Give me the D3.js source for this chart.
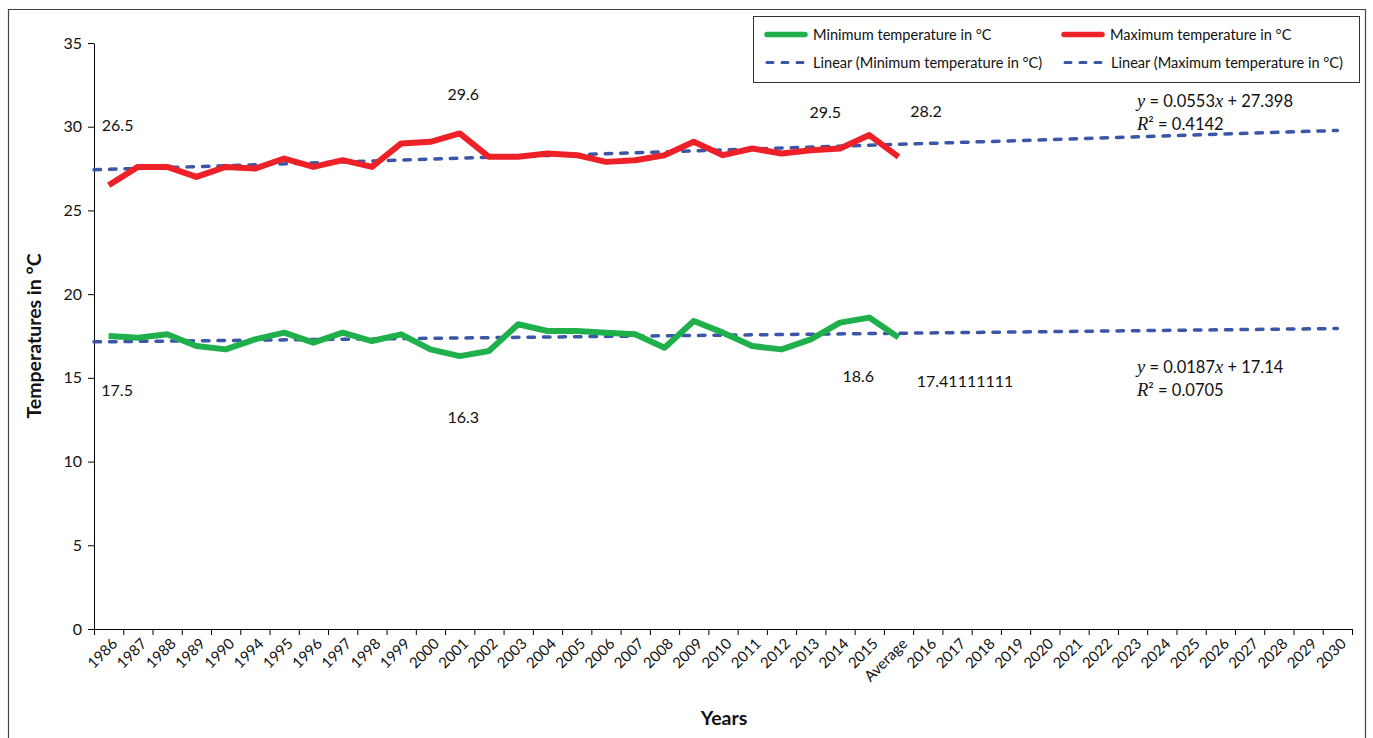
<!DOCTYPE html>
<html>
<head>
<meta charset="utf-8">
<script src="https://cdn.jsdelivr.net/npm/d3@7"></script>
<style>
  body { margin: 0; background: #fff; }
  svg { display: block; font-family: Lato, "Open Sans", sans-serif; }
</style>
</head>
<body>
<div class="graph"></div>
<script>
// categories on the x axis (Excel category axis, "Average" sits among the years)
const categories = ["1986", "1987", "1988", "1989", "1990", "1994", "1995", "1996", "1997", "1998",
    "1999", "2000", "2001", "2002", "2003", "2004", "2005", "2006", "2007", "2008", "2009", "2010",
    "2011", "2012", "2013", "2014", "2015", "Average", "2016", "2017", "2018", "2019", "2020", "2021",
    "2022", "2023", "2024", "2025", "2026", "2027", "2028", "2029", "2030"];

// values for 1986 ... 2015 and Average
const minTemps = [17.5, 17.4, 17.6, 16.9, 16.7, 17.3, 17.7, 17.1, 17.7, 17.2, 17.6, 16.7, 16.3, 16.6,
    18.2, 17.8, 17.8, 17.7, 17.6, 16.8, 18.4, 17.7, 16.9, 16.7, 17.3, 18.3, 18.6, 17.41111111];
const maxTemps = [26.5, 27.6, 27.6, 27.0, 27.6, 27.5, 28.1, 27.6, 28.0, 27.6, 29.0, 29.1, 29.6, 28.2,
    28.2, 28.4, 28.3, 27.9, 28.0, 28.3, 29.1, 28.3, 28.7, 28.4, 28.6, 28.7, 29.5, 28.2];

// trendline coefficients as printed on the chart
const minTrend = { slope: 0.0187, intercept: 17.14, r2: "0.0705" };
const maxTrend = { slope: 0.0553, intercept: 27.398, r2: "0.4142" };

const yTicks = [0, 5, 10, 15, 20, 25, 30, 35];

// data labels shown on the chart
const minLabelCats = ["1986", "2001", "2015", "Average"];
const minLabelTexts = ["17.5", "16.3", "18.6", "17.41111111"];
const maxLabelCats = ["1986", "2001", "2015", "Average"];
const maxLabelTexts = ["26.5", "29.6", "29.5", "28.2"];

const drawChart = () => {
    const W = 1373, H = 738;
    const margin = { top: 43, right: 21, bottom: 109, left: 94 };
    const width = W - margin.left - margin.right,
        height = H - margin.top - margin.bottom;

    const green = "#1fb04c", red = "#ee2028", blue = "#3b56a6";

    const svg = d3.select(".graph")
        .append("svg")
        .attr("width", W)
        .attr("height", H);

    // outer frame
    svg.append("path")
        .attr("d", "M8.5," + H + "V9.5H1365.5V" + H)
        .attr("fill", "none")
        .attr("stroke", "#444")
        .attr("stroke-width", 1.2);

    const g = svg.append("g")
        .attr("transform", "translate(" + margin.left + "," + margin.top + ")");

    const x = d3.scaleBand()
        .domain(categories)
        .range([0, width]);
    // continuous position: 1 = first category centre (used for ticks & trendlines)
    const xt = d3.scaleLinear()
        .domain([0.5, categories.length + 0.5])
        .range([0, width]);
    const y = d3.scaleLinear()
        .domain([0, 35])
        .range([height, 0]);

    // y axis
    const yAxis = d3.axisLeft(y)
        .tickValues(yTicks)
        .tickSize(6)
        .tickSizeOuter(0)
        .tickPadding(6);
    const ya = g.append("g").call(yAxis);
    ya.selectAll("text").attr("font-size", 16).attr("fill", "#111").attr("font-family", "Lato");
    ya.selectAll("line, path").attr("stroke", "#000");

    // x axis: ticks between categories
    const xAxis = d3.axisBottom(xt)
        .tickValues(d3.range(0, categories.length + 1).map(i => i + 0.5))
        .tickFormat("")
        .tickSize(6)
        .tickSizeOuter(0);
    const xa = g.append("g")
        .attr("transform", "translate(0," + height + ")")
        .call(xAxis);
    xa.selectAll("line, path").attr("stroke", "#000");

    g.append("g")
        .selectAll("text")
        .data(categories)
        .enter()
        .append("text")
        .attr("transform", d => "translate(" + (x(d) + x.bandwidth() / 2 + 6) + "," + (height + 12) + ") rotate(-45)")
        .attr("text-anchor", "end")
        .attr("dy", "0.35em")
        .attr("font-size", 15)
        .attr("fill", "#111")
        .text(d => d);

    // axis titles
    g.append("text")
        .attr("transform", "translate(" + (34 - margin.left) + "," + (336 - margin.top) + ") rotate(-90)")
        .attr("text-anchor", "middle")
        .attr("dy", "0.35em")
        .attr("font-size", 19.5)
        .attr("font-weight", "bold")
        .attr("fill", "#111")
        .text("Temperatures in °C");
    g.append("text")
        .attr("x", 724 - margin.left)
        .attr("y", 718 - margin.top)
        .attr("text-anchor", "middle")
        .attr("dy", "0.35em")
        .attr("font-size", 19.5)
        .attr("font-weight", "bold")
        .attr("fill", "#111")
        .text("Years");

    // trendlines
    const trendLine = (tr) => [0.5, categories.length].map(t => [xt(t), y(tr.intercept + tr.slope * t)]);
    [minTrend, maxTrend].forEach(tr => {
        g.append("path")
            .attr("d", d3.line()(trendLine(tr)))
            .attr("fill", "none")
            .attr("stroke", blue)
            .attr("stroke-width", 3.5)
            .attr("stroke-linecap", "round")
            .attr("stroke-dasharray", "6.5,9");
    });

    // series lines
    const line = d3.line()
        .x((d, i) => x(categories[i]) + x.bandwidth() / 2)
        .y(d => y(d));
    g.append("path")
        .attr("d", line(minTemps))
        .attr("fill", "none")
        .attr("stroke", green)
        .attr("stroke-width", 6)
        .attr("stroke-linejoin", "round");
    g.append("path")
        .attr("d", line(maxTemps))
        .attr("fill", "none")
        .attr("stroke", red)
        .attr("stroke-width", 6)
        .attr("stroke-linejoin", "round");

    // data labels (offsets from their points, as placed in the original)
    const minOffsets = [[8.5, 54], [3.5, 61.5], [-11, 58.5], [66.5, 43.5]];
    const maxOffsets = [[9, -60], [3.5, -39.5], [-44, -23], [27.5, -45.5]];
    const drawLabels = (cats, texts, values, offsets) => {
        cats.forEach((c, k) => {
            const i = categories.indexOf(c);
            g.append("text")
                .attr("x", x(c) + x.bandwidth() / 2 + offsets[k][0])
                .attr("y", y(values[i]) + offsets[k][1])
                .attr("text-anchor", "middle")
                .attr("dy", "0.35em")
                .attr("font-size", 16)
                .attr("fill", "#111")
                .text(texts[k]);
        });
    };
    drawLabels(minLabelCats, minLabelTexts, minTemps, minOffsets);
    drawLabels(maxLabelCats, maxLabelTexts, maxTemps, maxOffsets);

    // trendline equations
    const equation = (tr, x0, y0) => {
        const t1 = svg.append("text")
            .attr("x", x0).attr("y", y0).attr("dy", "0.35em")
            .attr("font-size", 16.5).attr("fill", "#111");
        t1.append("tspan").attr("font-family", "Liberation Serif").attr("font-style", "italic").attr("font-size", 18.5).text("y");
        t1.append("tspan").text(" = " + tr.slope);
        t1.append("tspan").attr("font-family", "Liberation Serif").attr("font-style", "italic").attr("font-size", 18.5).text("x");
        t1.append("tspan").text(" + " + tr.intercept);
        const t2 = svg.append("text")
            .attr("x", x0).attr("y", y0 + 23).attr("dy", "0.35em")
            .attr("font-size", 16.5).attr("fill", "#111");
        t2.append("tspan").attr("font-family", "Liberation Serif").attr("font-style", "italic").attr("font-size", 18.5).text("R");
        t2.append("tspan").text("² = " + tr.r2);
    };
    equation(maxTrend, 1137, 101);
    equation(minTrend, 1137, 367);

    // legend
    const lg = svg.append("g");
    lg.append("rect")
        .attr("x", 753.5).attr("y", 16.5)
        .attr("width", 606).attr("height", 66)
        .attr("fill", "#fff")
        .attr("stroke", "#333")
        .attr("stroke-width", 1);
    const items = [
        { name: "Minimum temperature in °C", color: green, dash: false, x: 765, y: 34.5 },
        { name: "Maximum temperature in °C", color: red, dash: false, x: 1062, y: 34.5 },
        { name: "Linear (Minimum temperature in °C)", color: blue, dash: true, x: 765, y: 62.5 },
        { name: "Linear (Maximum temperature in °C)", color: blue, dash: true, x: 1063, y: 62.5 }
    ];
    items.forEach(it => {
        lg.append("line")
            .attr("x1", it.x + 2).attr("x2", it.x + 40)
            .attr("y1", it.y).attr("y2", it.y)
            .attr("stroke", it.color)
            .attr("stroke-width", it.dash ? 3 : 5.5)
            .attr("stroke-linecap", "round")
            .attr("stroke-dasharray", it.dash ? "6,9" : null);
        lg.append("text")
            .attr("x", it.x + 48)
            .attr("y", it.y)
            .attr("dy", "0.35em")
            .attr("font-size", 14.6)
            .attr("fill", "#111")
            .text(it.name);
    });
};

drawChart();
</script>
</body>
</html>
